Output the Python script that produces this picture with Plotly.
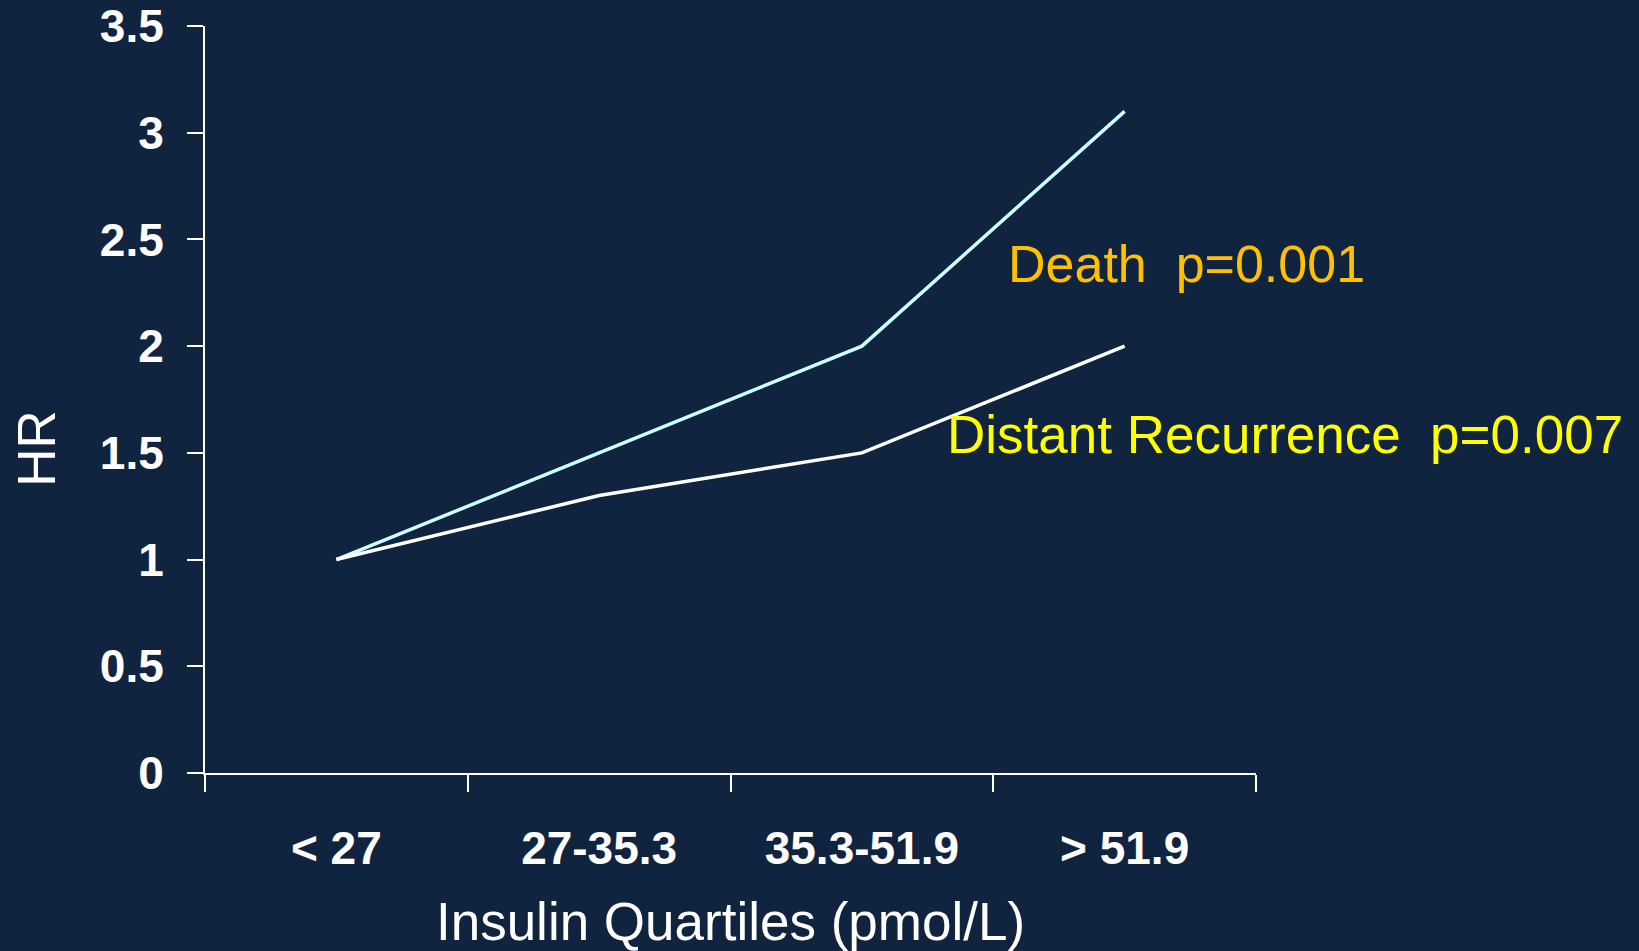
import plotly.graph_objects as go

categories = ["< 27", "27-35.3", "35.3-51.9", "> 51.9"]
death_hr = [1.0, 1.5, 2.0, 3.1]
recurrence_hr = [1.0, 1.3, 1.5, 2.0]
x_pos = [0.5, 1.5, 2.5, 3.5]
y_ticks = [0, 0.5, 1, 1.5, 2, 2.5, 3, 3.5]

BG = "#11243F"
FONT = "Liberation Sans, Arial, sans-serif"

fig = go.Figure()
fig.add_trace(go.Scatter(x=x_pos, y=death_hr, mode="lines",
                         line=dict(color="#CCFFFF", width=3.5), name="Death"))
fig.add_trace(go.Scatter(x=x_pos, y=recurrence_hr, mode="lines",
                         line=dict(color="#FFFFFF", width=3.5), name="Distant Recurrence"))

fig.add_annotation(x=3.05, y=2.385, xref="x", yref="y", text="Death  p=0.001",
                   showarrow=False, xanchor="left", yanchor="middle",
                   font=dict(family=FONT, size=52, color="#FFC000"))
fig.add_annotation(x=2.818, y=1.584, xref="x", yref="y",
                   text="Distant Recurrence  p=0.007",
                   showarrow=False, xanchor="left", yanchor="middle",
                   font=dict(family=FONT, size=53, color="#FFFF00"))
fig.add_annotation(x=-0.161, y=0.435, xref="paper", yref="paper", text="HR",
                   showarrow=False, textangle=-90, xanchor="center", yanchor="middle",
                   font=dict(family=FONT, size=53, color="#FFFFFF"))

fig.update_layout(
    width=1639, height=951,
    margin=dict(l=205, r=383, t=26, b=178, autoexpand=False),
    paper_bgcolor=BG, plot_bgcolor=BG,
    showlegend=False,
    font=dict(family=FONT, color="#FFFFFF"),
)
fig.update_xaxes(
    range=[0, 4], showgrid=False, zeroline=False, automargin=False,
    showline=True, linecolor="#FFFFFF", linewidth=2,
    tickmode="array", tickvals=x_pos, ticktext=categories, ticks="",
    tickfont=dict(family=FONT, size=46, color="#FFFFFF", weight="bold"),
    ticklabelstandoff=34,
    minor=dict(tickmode="array", tickvals=[0, 1, 2, 3, 4], ticks="outside",
               ticklen=17, tickwidth=2, tickcolor="#FFFFFF", showgrid=False),
    title=dict(text="Insulin Quartiles (pmol/L)", standoff=31,
               font=dict(family=FONT, size=53, color="#FFFFFF")),
)
fig.update_yaxes(
    range=[0, 3.5], showgrid=False, zeroline=False, automargin=False,
    showline=True, linecolor="#FFFFFF", linewidth=2,
    tickmode="array", tickvals=y_ticks, ticks="outside",
    ticklen=16, tickwidth=2, tickcolor="#FFFFFF",
    ticklabelstandoff=14,
    tickfont=dict(family=FONT, size=46, color="#FFFFFF", weight="bold"),
)

fig.write_html("out.html")
